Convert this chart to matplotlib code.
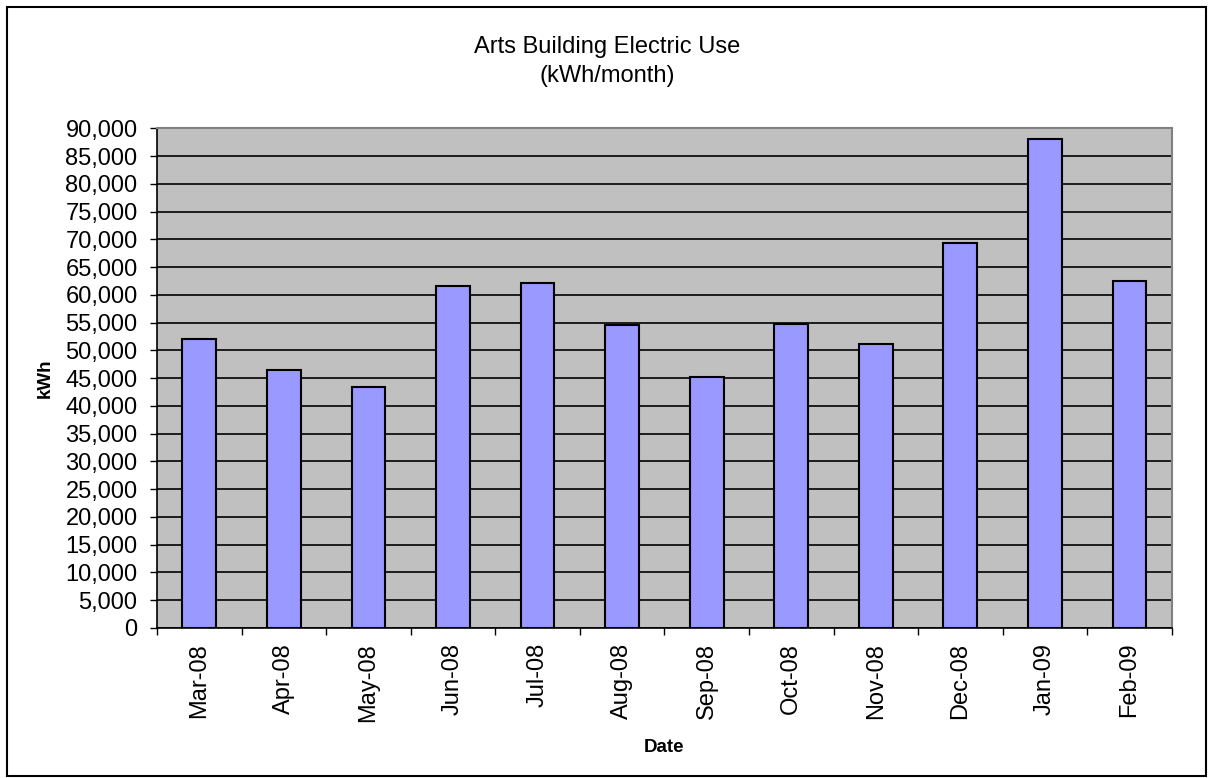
import numpy as np
import matplotlib.pyplot as plt
from matplotlib.patches import Rectangle
from matplotlib.ticker import FuncFormatter, MultipleLocator

plt.rcParams['font.family'] = ['Liberation Sans', 'DejaVu Sans']

# monthly electric use (kWh)
months = ["Mar-08", "Apr-08", "May-08", "Jun-08", "Jul-08", "Aug-08",
          "Sep-08", "Oct-08", "Nov-08", "Dec-08", "Jan-09", "Feb-09"]
kwh = [52000, 46400, 43400, 61600, 62200, 54500,
       45200, 54800, 51100, 69300, 88100, 62500]

fig = plt.figure(figsize=(12.08, 7.78), dpi=100)
ax = fig.add_axes([0.130, 0.193, 0.840, 0.642])

x = np.arange(len(months))
ax.bar(x, kwh, width=0.4, color="#9999FF", edgecolor="black", linewidth=1.5, zorder=3)

ax.set_facecolor("#C0C0C0")
ax.set_xlim(-0.5, len(months) - 0.5)
ax.set_ylim(0, 90000)
ax.yaxis.set_major_locator(MultipleLocator(5000))
ax.yaxis.set_major_formatter(FuncFormatter(lambda v, p: f"{int(v):,}"))
ax.grid(axis="y", color="black", linewidth=1.2, zorder=1)

# category labels at centers, tick marks on the boundaries
ax.set_xticks(x)
ax.set_xticklabels(months, rotation=90, fontsize=17)
ax.tick_params(axis="x", length=0, pad=10.8)
ax.set_xticks(np.arange(len(months) + 1) - 0.5, minor=True)
ax.tick_params(axis="x", which="minor", length=5, width=1, direction="out")
ax.tick_params(axis="y", labelsize=17, length=5, width=1, direction="out", pad=9)

for side in ["top", "right"]:
    ax.spines[side].set_color("#808080")
    ax.spines[side].set_linewidth(1.5)
for side in ["left", "bottom"]:
    ax.spines[side].set_color("black")
    ax.spines[side].set_linewidth(1.2)

ax.set_xlabel("Date", fontsize=13.5, fontweight="bold")
ax.xaxis.set_label_coords(0.5, -0.222)
ax.set_ylabel("kWh", fontsize=13.5, fontweight="bold")
ax.yaxis.set_label_coords(-0.1015, 0.5)

fig.text(0.503, 0.932, "Arts Building Electric Use", ha="center", va="baseline", fontsize=17)
fig.text(0.503, 0.8946, "(kWh/month)", ha="center", va="baseline", fontsize=17)

# outer chart border
fig.add_artist(Rectangle((6.5 / 1208, 2 / 778), 1199.5 / 1208, 769 / 778,
                         transform=fig.transFigure, fill=False,
                         edgecolor="black", linewidth=1.5))

fig.savefig("out.png", dpi=100)
